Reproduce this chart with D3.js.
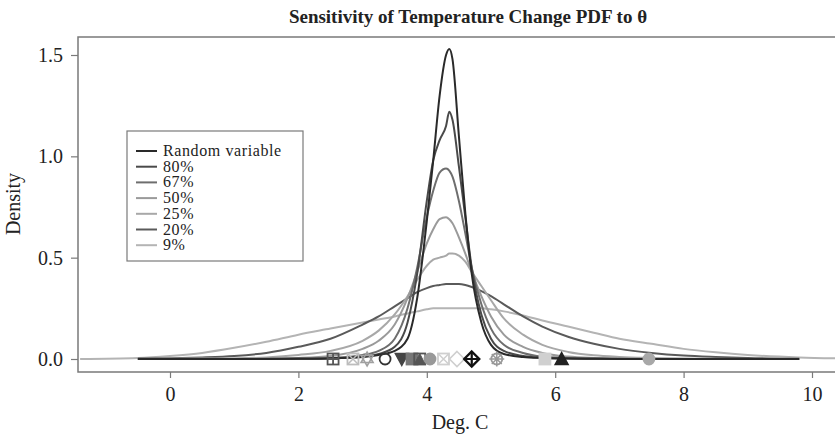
<!DOCTYPE html>
<html>
<head>
<meta charset="utf-8">
<script src="https://cdn.jsdelivr.net/npm/d3@7"></script>
<style>
  body { margin: 0; background: #fff; }
  text { font-family: "Liberation Serif", "DejaVu Serif", serif; fill: #222; }
</style>
</head>
<body>
<svg id="chart" width="835" height="438"></svg>
<script>
// grid of temperatures (deg C) the densities are read at
var xs = [-1.4, -0.5, 0, 0.5, 1, 1.5, 2, 2.5, 3, 3.25, 3.5, 3.7, 3.85, 4.0, 4.1, 4.2, 4.3, 4.35, 4.4, 4.5, 4.6, 4.7, 4.85, 5.0, 5.2, 5.5, 5.8, 6.2, 6.6, 7, 7.5, 8, 8.5, 9, 9.8, 10.5];

var seriesNames = ['Random variable', '80%', '67%', '50%', '25%', '20%', '9%'];
var seriesColors = ['#2a2a2a', '#4a4a4a', '#6e6e6e', '#9a9a9a', '#a8a8a8', '#5a5a5a', '#b4b4b4'];

var densRandom = [null, 0, 0, 0, 0, 0, 0.001, 0.003, 0.01, 0.02, 0.04, 0.1, 0.3, 0.68, 0.98, 1.3, 1.5, 1.53, 1.48, 1.1, 0.72, 0.42, 0.18, 0.07, 0.025, 0.01, 0.005, 0.002, 0.001, 0, 0, 0, 0, 0, 0, null];
var dens80 = [null, 0, 0, 0, 0, 0, 0.001, 0.004, 0.012, 0.025, 0.06, 0.18, 0.42, 0.78, 0.98, 1.08, 1.15, 1.22, 1.18, 0.95, 0.7, 0.45, 0.22, 0.1, 0.04, 0.015, 0.006, 0.003, 0.001, 0, 0, 0, 0, 0, 0, null];
var dens67 = [null, 0, 0, 0, 0, 0.001, 0.002, 0.005, 0.02, 0.04, 0.1, 0.25, 0.45, 0.7, 0.83, 0.92, 0.94, 0.93, 0.9, 0.78, 0.62, 0.45, 0.27, 0.15, 0.07, 0.03, 0.012, 0.005, 0.002, 0.001, 0, 0, 0, 0, 0, null];
var dens50 = [null, 0, 0, 0, 0.001, 0.002, 0.005, 0.015, 0.05, 0.09, 0.17, 0.3, 0.43, 0.57, 0.64, 0.69, 0.7, 0.69, 0.67, 0.6, 0.52, 0.43, 0.31, 0.21, 0.12, 0.06, 0.03, 0.012, 0.005, 0.002, 0.001, 0, 0, 0, 0, null];
var dens25 = [null, 0, 0.001, 0.002, 0.003, 0.008, 0.02, 0.04, 0.09, 0.14, 0.22, 0.31, 0.39, 0.46, 0.49, 0.5, 0.51, 0.52, 0.52, 0.51, 0.48, 0.43, 0.36, 0.29, 0.2, 0.12, 0.07, 0.035, 0.018, 0.01, 0.005, 0.002, 0.001, 0, 0, null];
var dens20 = [null, 0.002, 0.004, 0.008, 0.015, 0.03, 0.06, 0.1, 0.17, 0.21, 0.26, 0.3, 0.33, 0.35, 0.36, 0.365, 0.37, 0.37, 0.37, 0.37, 0.365, 0.355, 0.335, 0.31, 0.27, 0.21, 0.16, 0.11, 0.075, 0.05, 0.03, 0.017, 0.01, 0.005, 0.001, null];
var dens9 = [0, 0.005, 0.015, 0.03, 0.055, 0.085, 0.12, 0.15, 0.18, 0.195, 0.21, 0.225, 0.235, 0.245, 0.25, 0.25, 0.25, 0.25, 0.25, 0.25, 0.25, 0.25, 0.25, 0.245, 0.235, 0.215, 0.19, 0.16, 0.13, 0.1, 0.075, 0.05, 0.033, 0.02, 0.008, 0.003];
var allDens = [densRandom, dens80, dens67, dens50, dens25, dens20, dens9];

// quantile markers along the zero line
var markerX = [2.54, 2.85, 3.07, 3.35, 3.61, 3.77, 3.89, 4.05, 4.26, 4.47, 4.70, 5.09, 5.84, 6.10, 7.46];
var markerShape = ['squarePlus', 'squareX', 'david', 'circle', 'triDownFill', 'squareFill', 'squareTri', 'circleFill', 'squareX', 'diamond', 'diamondPlus', 'asterCircle', 'squareFill', 'triFill', 'circleFill'];
var markerColor = ['#555', '#bdbdbd', '#a0a0a0', '#333', '#444', '#777', '#555', '#999', '#cfcfcf', '#cfcfcf', '#111', '#999', '#d0d0d0', '#222', '#a8a8a8'];

var xTicks = [0, 2, 4, 6, 8, 10];
var yTicks = [0.0, 0.5, 1.0, 1.5];

var svg = d3.select('#chart');
var box = {left: 78, top: 37, right: 845, bottom: 372};
var fs = '20px';

var x = d3.scaleLinear().domain([0, 10]).range([170, 812]);
var y = d3.scaleLinear().domain([0, 1.5]).range([359, 55]);

svg.append('defs').append('clipPath').attr('id', 'plotclip')
  .append('rect')
  .attr('x', box.left).attr('y', box.top)
  .attr('width', box.right - box.left).attr('height', box.bottom - box.top);

// frame (open on the right, it runs off the page)
svg.append('path')
  .attr('d', 'M' + box.right + ',' + box.top + 'H' + box.left + 'V' + box.bottom + 'H' + box.right)
  .attr('fill', 'none')
  .attr('stroke', '#7a7a7a')
  .attr('stroke-width', 1.5);

// x axis
var xAxis = d3.axisBottom(x).tickValues(xTicks).tickSize(6).tickPadding(9).tickFormat(d3.format('d'));
var gx = svg.append('g').attr('transform', 'translate(0,' + box.bottom + ')').call(xAxis);
gx.select('.domain').remove();
gx.selectAll('.tick line').attr('stroke', '#7a7a7a').attr('stroke-width', 1.2);
gx.selectAll('.tick text').style('font-size', fs).style('font-family', '"Liberation Serif", serif').attr('fill', '#222');

// y axis
var yAxis = d3.axisLeft(y).tickValues(yTicks).tickSize(7).tickPadding(8).tickFormat(d3.format('.1f'));
var gy = svg.append('g').attr('transform', 'translate(' + box.left + ',0)').call(yAxis);
gy.select('.domain').remove();
gy.selectAll('.tick line').attr('stroke', '#7a7a7a').attr('stroke-width', 1.2);
gy.selectAll('.tick text').style('font-size', fs).style('font-family', '"Liberation Serif", serif').attr('fill', '#222');

// titles
svg.append('text')
  .attr('x', 468).attr('y', 23)
  .attr('text-anchor', 'middle')
  .style('font-size', '19px').style('font-weight', 'bold')
  .text('Sensitivity of Temperature Change PDF to θ');

svg.append('text')
  .attr('x', 460).attr('y', 429)
  .attr('text-anchor', 'middle')
  .style('font-size', fs)
  .text('Deg. C');

svg.append('text')
  .attr('transform', 'translate(20,204) rotate(-90)')
  .attr('text-anchor', 'middle')
  .style('font-size', fs)
  .text('Density');

// density curves
var plot = svg.append('g').attr('clip-path', 'url(#plotclip)');
var line = d3.line()
  .defined(function(d) { return d[1] !== null; })
  .x(function(d) { return x(d[0]); })
  .y(function(d) { return y(d[1]); })
  .curve(d3.curveMonotoneX);

// draw broad ones first, narrow ones on top
var order = [6, 5, 4, 3, 2, 1, 0];
order.forEach(function(i) {
  var pts = xs.map(function(v, k) { return [v, allDens[i][k]]; });
  plot.append('path')
    .attr('d', line(pts))
    .attr('fill', 'none')
    .attr('stroke', seriesColors[i])
    .attr('stroke-width', 2)
    .attr('stroke-linejoin', 'round');
});

// markers
var r = 5.5;
function drawMarker(g, shape, col) {
  if (shape == 'squarePlus' || shape == 'squareX' || shape == 'squareFill' || shape == 'squareTri') {
    g.append('rect').attr('x', -r).attr('y', -r).attr('width', 2 * r).attr('height', 2 * r)
      .attr('fill', shape == 'squareFill' ? col : 'none').attr('stroke', col).attr('stroke-width', 1.8);
    if (shape == 'squarePlus') g.append('path').attr('d', 'M0,' + (-r) + 'V' + r + 'M' + (-r) + ',0H' + r).attr('stroke', col).attr('stroke-width', 1.8);
    if (shape == 'squareX') g.append('path').attr('d', 'M' + (-r) + ',' + (-r) + 'L' + r + ',' + r + 'M' + (-r) + ',' + r + 'L' + r + ',' + (-r)).attr('stroke', col).attr('stroke-width', 1.5);
    if (shape == 'squareTri') g.append('path').attr('d', 'M' + (-r) + ',' + r + 'L0,' + (-r) + 'L' + r + ',' + r).attr('fill', col).attr('stroke', col).attr('stroke-width', 1);
  } else if (shape == 'circle' || shape == 'circleFill' || shape == 'asterCircle') {
    g.append('circle').attr('r', r)
      .attr('fill', shape == 'circleFill' ? col : 'none').attr('stroke', col).attr('stroke-width', 1.8);
    if (shape == 'asterCircle') g.append('path').attr('d', 'M0,' + (-r - 2) + 'V' + (r + 2) + 'M' + (-r - 2) + ',0H' + (r + 2) + 'M-5,-5L5,5M-5,5L5,-5').attr('stroke', col).attr('stroke-width', 1.5);
  } else if (shape == 'triFill' || shape == 'triDownFill') {
    var s = shape == 'triFill' ? 1 : -1;
    g.append('path').attr('d', 'M' + (-r - 1) + ',' + (s * r) + 'L0,' + (-s * (r + 1)) + 'L' + (r + 1) + ',' + (s * r) + 'Z')
      .attr('fill', col).attr('stroke', col).attr('stroke-width', 1.5);
  } else if (shape == 'david') {
    g.append('path').attr('d', 'M-6,3.5L0,-7L6,3.5ZM-6,-3.5L0,7L6,-3.5Z')
      .attr('fill', 'none').attr('stroke', col).attr('stroke-width', 1.6);
  } else if (shape == 'diamond' || shape == 'diamondPlus') {
    g.append('path').attr('d', 'M0,' + (-r - 2) + 'L' + (r + 2) + ',0L0,' + (r + 2) + 'L' + (-r - 2) + ',0Z')
      .attr('fill', 'none').attr('stroke', col).attr('stroke-width', shape == 'diamondPlus' ? 2.4 : 1.6);
    if (shape == 'diamondPlus') g.append('path').attr('d', 'M0,' + (-r - 2) + 'V' + (r + 2) + 'M' + (-r - 2) + ',0H' + (r + 2)).attr('stroke', col).attr('stroke-width', 2.2);
  }
}
markerX.forEach(function(v, i) {
  var g = plot.append('g').attr('transform', 'translate(' + x(v) + ',' + y(0) + ')');
  drawMarker(g, markerShape[i], markerColor[i]);
});

// legend (rows are tight in the original)
var lg = svg.append('g').attr('transform', 'translate(127,131)');
lg.append('rect').attr('width', 176).attr('height', 130)
  .attr('fill', '#fff').attr('stroke', '#7a7a7a').attr('stroke-width', 1.2);
seriesNames.forEach(function(name, i) {
  var yy = 20 + i * 15.7;
  lg.append('line').attr('x1', 9).attr('x2', 30).attr('y1', yy).attr('y2', yy)
    .attr('stroke', seriesColors[i]).attr('stroke-width', 2);
  lg.append('text').attr('x', 36).attr('y', yy + 5)
    .style('font-size', '16px').style('letter-spacing', '0.6px').text(name);
});
</script>
</body>
</html>
